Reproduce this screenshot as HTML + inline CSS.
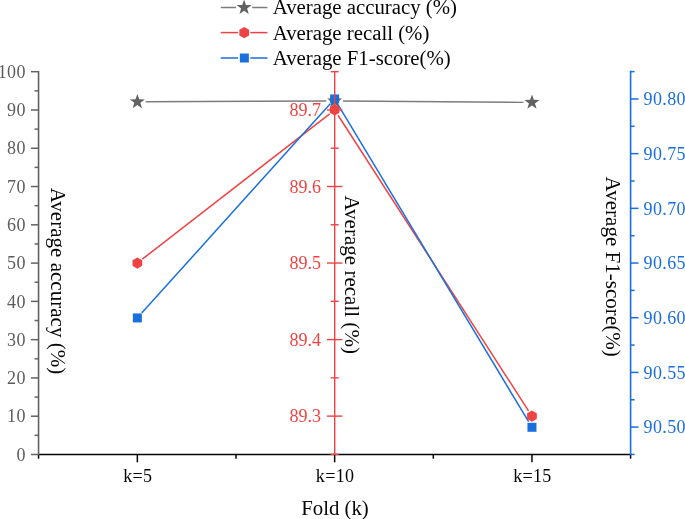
<!DOCTYPE html>
<html><head><meta charset="utf-8"><style>
html,body{margin:0;padding:0;background:#fff;width:685px;height:519px;overflow:hidden;position:relative}
.t{font-family:"Liberation Serif",serif;font-size:18px;letter-spacing:0.35px}
.T{font-family:"Liberation Serif",serif;font-size:20.8px}
.T2{font-family:"Liberation Serif",serif;font-size:21.05px}
</style></head><body>
<svg width="685" height="519" viewBox="0 0 685 519" style="position:absolute;left:0;top:0;will-change:transform">
<line x1="145.75" y1="101.81" x2="326.25" y2="100.99" stroke="#7c7c7c" stroke-width="1.4"/>
<line x1="343.05" y1="101.01" x2="523.55" y2="102.34" stroke="#7c7c7c" stroke-width="1.4"/>
<line x1="142.33" y1="259.18" x2="329.67" y2="113.82" stroke="#ef4343" stroke-width="1.5"/>
<line x1="338.06" y1="115.26" x2="528.54" y2="410.82" stroke="#ef4343" stroke-width="1.5"/>
<line x1="141.70" y1="313.09" x2="330.30" y2="103.79" stroke="#1a6fdf" stroke-width="1.5"/>
<line x1="338.00" y1="104.53" x2="528.60" y2="421.73" stroke="#1a6fdf" stroke-width="1.5"/>
<polygon points="137.35,93.95 139.21,99.29 144.86,99.41 140.36,102.83 141.99,108.24 137.35,105.01 132.71,108.24 134.34,102.83 129.84,99.41 135.49,99.29" fill="#626262"/>
<polygon points="334.65,93.05 336.51,98.39 342.16,98.51 337.66,101.93 339.29,107.34 334.65,104.11 330.01,107.34 331.64,101.93 327.14,98.51 332.79,98.39" fill="#626262"/>
<polygon points="531.95,94.50 533.81,99.84 539.46,99.96 534.96,103.38 536.59,108.79 531.95,105.56 527.31,108.79 528.94,103.38 524.44,99.96 530.09,99.84" fill="#626262"/>
<rect x="132.85" y="313.42" width="9.0" height="9.0" fill="#1a6fdf"/>
<rect x="330.15" y="94.46" width="9.0" height="9.0" fill="#1a6fdf"/>
<rect x="527.45" y="422.80" width="9.0" height="9.0" fill="#1a6fdf"/>
<polygon points="137.35,257.44 142.20,260.24 142.20,265.84 137.35,268.64 132.50,265.84 132.50,260.24" fill="#ef4343"/>
<polygon points="334.65,104.36 339.50,107.16 339.50,112.76 334.65,115.56 329.80,112.76 329.80,107.16" fill="#ef4343"/>
<polygon points="531.95,410.52 536.80,413.32 536.80,418.92 531.95,421.72 527.10,418.92 527.10,413.32" fill="#ef4343"/>
<line x1="37.75" y1="454.5" x2="631.4" y2="454.5" stroke="#050505" stroke-width="1.6"/>
<line x1="38.55" y1="454.5" x2="38.55" y2="458.7" stroke="#050505" stroke-width="1.5"/>
<line x1="236.0" y1="454.5" x2="236.0" y2="458.7" stroke="#050505" stroke-width="1.5"/>
<line x1="433.3" y1="454.5" x2="433.3" y2="458.7" stroke="#050505" stroke-width="1.5"/>
<line x1="630.6" y1="454.5" x2="630.6" y2="458.7" stroke="#050505" stroke-width="1.5"/>
<line x1="137.35" y1="454.5" x2="137.35" y2="462.3" stroke="#050505" stroke-width="1.5"/>
<text x="137.85" y="482.1" text-anchor="middle" class="t" fill="#050505">k=5</text>
<line x1="334.65" y1="454.5" x2="334.65" y2="462.3" stroke="#050505" stroke-width="1.5"/>
<text x="335.15" y="482.1" text-anchor="middle" class="t" fill="#050505">k=10</text>
<line x1="531.95" y1="454.5" x2="531.95" y2="462.3" stroke="#050505" stroke-width="1.5"/>
<text x="532.45" y="482.1" text-anchor="middle" class="t" fill="#050505">k=15</text>
<line x1="38.55" y1="70.95" x2="38.55" y2="455.3" stroke="#626262" stroke-width="1.6"/>
<line x1="30.95" y1="454.50" x2="38.55" y2="454.50" stroke="#626262" stroke-width="1.5"/>
<text x="25.8" y="460.70" text-anchor="end" class="t" fill="#5c5c5c">0</text>
<line x1="34.55" y1="435.36" x2="38.55" y2="435.36" stroke="#626262" stroke-width="1.5"/>
<line x1="30.95" y1="416.22" x2="38.55" y2="416.22" stroke="#626262" stroke-width="1.5"/>
<text x="25.8" y="422.42" text-anchor="end" class="t" fill="#5c5c5c">10</text>
<line x1="34.55" y1="397.08" x2="38.55" y2="397.08" stroke="#626262" stroke-width="1.5"/>
<line x1="30.95" y1="377.94" x2="38.55" y2="377.94" stroke="#626262" stroke-width="1.5"/>
<text x="25.8" y="384.14" text-anchor="end" class="t" fill="#5c5c5c">20</text>
<line x1="34.55" y1="358.80" x2="38.55" y2="358.80" stroke="#626262" stroke-width="1.5"/>
<line x1="30.95" y1="339.66" x2="38.55" y2="339.66" stroke="#626262" stroke-width="1.5"/>
<text x="25.8" y="345.86" text-anchor="end" class="t" fill="#5c5c5c">30</text>
<line x1="34.55" y1="320.52" x2="38.55" y2="320.52" stroke="#626262" stroke-width="1.5"/>
<line x1="30.95" y1="301.38" x2="38.55" y2="301.38" stroke="#626262" stroke-width="1.5"/>
<text x="25.8" y="307.58" text-anchor="end" class="t" fill="#5c5c5c">40</text>
<line x1="34.55" y1="282.24" x2="38.55" y2="282.24" stroke="#626262" stroke-width="1.5"/>
<line x1="30.95" y1="263.10" x2="38.55" y2="263.10" stroke="#626262" stroke-width="1.5"/>
<text x="25.8" y="269.30" text-anchor="end" class="t" fill="#5c5c5c">50</text>
<line x1="34.55" y1="243.96" x2="38.55" y2="243.96" stroke="#626262" stroke-width="1.5"/>
<line x1="30.95" y1="224.82" x2="38.55" y2="224.82" stroke="#626262" stroke-width="1.5"/>
<text x="25.8" y="231.02" text-anchor="end" class="t" fill="#5c5c5c">60</text>
<line x1="34.55" y1="205.68" x2="38.55" y2="205.68" stroke="#626262" stroke-width="1.5"/>
<line x1="30.95" y1="186.54" x2="38.55" y2="186.54" stroke="#626262" stroke-width="1.5"/>
<text x="25.8" y="192.74" text-anchor="end" class="t" fill="#5c5c5c">70</text>
<line x1="34.55" y1="167.40" x2="38.55" y2="167.40" stroke="#626262" stroke-width="1.5"/>
<line x1="30.95" y1="148.26" x2="38.55" y2="148.26" stroke="#626262" stroke-width="1.5"/>
<text x="25.8" y="154.46" text-anchor="end" class="t" fill="#5c5c5c">80</text>
<line x1="34.55" y1="129.12" x2="38.55" y2="129.12" stroke="#626262" stroke-width="1.5"/>
<line x1="30.95" y1="109.98" x2="38.55" y2="109.98" stroke="#626262" stroke-width="1.5"/>
<text x="25.8" y="116.18" text-anchor="end" class="t" fill="#5c5c5c">90</text>
<line x1="34.55" y1="90.84" x2="38.55" y2="90.84" stroke="#626262" stroke-width="1.5"/>
<line x1="30.95" y1="71.70" x2="38.55" y2="71.70" stroke="#626262" stroke-width="1.5"/>
<text x="25.8" y="77.90" text-anchor="end" class="t" fill="#5c5c5c">100</text>
<line x1="334.7" y1="70.99" x2="334.7" y2="455.09" stroke="#ef4343" stroke-width="1.4"/>
<line x1="330.70" y1="454.39" x2="338.70" y2="454.39" stroke="#ef4343" stroke-width="1.4"/>
<line x1="327.00" y1="416.12" x2="342.40" y2="416.12" stroke="#ef4343" stroke-width="1.4"/>
<text x="320.9" y="422.32" text-anchor="end" class="t" style="letter-spacing:0" fill="#ef4343">89.3</text>
<line x1="330.70" y1="377.85" x2="338.70" y2="377.85" stroke="#ef4343" stroke-width="1.4"/>
<line x1="327.00" y1="339.58" x2="342.40" y2="339.58" stroke="#ef4343" stroke-width="1.4"/>
<text x="320.9" y="345.78" text-anchor="end" class="t" style="letter-spacing:0" fill="#ef4343">89.4</text>
<line x1="330.70" y1="301.31" x2="338.70" y2="301.31" stroke="#ef4343" stroke-width="1.4"/>
<line x1="327.00" y1="263.04" x2="342.40" y2="263.04" stroke="#ef4343" stroke-width="1.4"/>
<text x="320.9" y="269.24" text-anchor="end" class="t" style="letter-spacing:0" fill="#ef4343">89.5</text>
<line x1="330.70" y1="224.77" x2="338.70" y2="224.77" stroke="#ef4343" stroke-width="1.4"/>
<line x1="327.00" y1="186.50" x2="342.40" y2="186.50" stroke="#ef4343" stroke-width="1.4"/>
<text x="320.9" y="192.70" text-anchor="end" class="t" style="letter-spacing:0" fill="#ef4343">89.6</text>
<line x1="330.70" y1="148.23" x2="338.70" y2="148.23" stroke="#ef4343" stroke-width="1.4"/>
<line x1="327.00" y1="109.96" x2="342.40" y2="109.96" stroke="#ef4343" stroke-width="1.4"/>
<text x="320.9" y="116.16" text-anchor="end" class="t" style="letter-spacing:0" fill="#ef4343">89.7</text>
<line x1="330.70" y1="71.69" x2="338.70" y2="71.69" stroke="#ef4343" stroke-width="1.4"/>
<line x1="630.6" y1="70.86" x2="630.6" y2="455.35" stroke="#1a6fdf" stroke-width="1.6"/>
<line x1="630.6" y1="454.45" x2="634.60" y2="454.45" stroke="#1a6fdf" stroke-width="1.5"/>
<line x1="630.6" y1="427.10" x2="638.50" y2="427.10" stroke="#1a6fdf" stroke-width="1.5"/>
<text x="643.6" y="433.30" class="t" fill="#1a6fdf">90.50</text>
<line x1="630.6" y1="399.76" x2="634.60" y2="399.76" stroke="#1a6fdf" stroke-width="1.5"/>
<line x1="630.6" y1="372.41" x2="638.50" y2="372.41" stroke="#1a6fdf" stroke-width="1.5"/>
<text x="643.6" y="378.61" class="t" fill="#1a6fdf">90.55</text>
<line x1="630.6" y1="345.07" x2="634.60" y2="345.07" stroke="#1a6fdf" stroke-width="1.5"/>
<line x1="630.6" y1="317.72" x2="638.50" y2="317.72" stroke="#1a6fdf" stroke-width="1.5"/>
<text x="643.6" y="323.92" class="t" fill="#1a6fdf">90.60</text>
<line x1="630.6" y1="290.38" x2="634.60" y2="290.38" stroke="#1a6fdf" stroke-width="1.5"/>
<line x1="630.6" y1="263.03" x2="638.50" y2="263.03" stroke="#1a6fdf" stroke-width="1.5"/>
<text x="643.6" y="269.23" class="t" fill="#1a6fdf">90.65</text>
<line x1="630.6" y1="235.69" x2="634.60" y2="235.69" stroke="#1a6fdf" stroke-width="1.5"/>
<line x1="630.6" y1="208.34" x2="638.50" y2="208.34" stroke="#1a6fdf" stroke-width="1.5"/>
<text x="643.6" y="214.54" class="t" fill="#1a6fdf">90.70</text>
<line x1="630.6" y1="181.00" x2="634.60" y2="181.00" stroke="#1a6fdf" stroke-width="1.5"/>
<line x1="630.6" y1="153.65" x2="638.50" y2="153.65" stroke="#1a6fdf" stroke-width="1.5"/>
<text x="643.6" y="159.85" class="t" fill="#1a6fdf">90.75</text>
<line x1="630.6" y1="126.31" x2="634.60" y2="126.31" stroke="#1a6fdf" stroke-width="1.5"/>
<line x1="630.6" y1="98.96" x2="638.50" y2="98.96" stroke="#1a6fdf" stroke-width="1.5"/>
<text x="643.6" y="105.16" class="t" fill="#1a6fdf">90.80</text>
<line x1="630.6" y1="71.62" x2="634.60" y2="71.62" stroke="#1a6fdf" stroke-width="1.5"/>
<text x="335" y="514.5" text-anchor="middle" class="T" fill="#050505">Fold (k)</text>
<text transform="translate(50.8,187.7) rotate(90)" class="T2" fill="#050505">Average accuracy (%)</text>
<text transform="translate(345.3,195.4) rotate(90)" class="T2" fill="#050505">Average recall (%)</text>
<text transform="translate(605.8,176.6) rotate(90)" class="T2" fill="#050505">Average F1-score(%)</text>
<line x1="220.8" y1="7.5" x2="236.0" y2="7.5" stroke="#7c7c7c" stroke-width="1.5"/>
<line x1="252.2" y1="7.5" x2="267.5" y2="7.5" stroke="#7c7c7c" stroke-width="1.5"/>
<polygon points="244.10,-0.40 245.96,4.94 251.61,5.06 247.11,8.48 248.74,13.89 244.10,10.66 239.46,13.89 241.09,8.48 236.59,5.06 242.24,4.94" fill="#626262"/>
<text x="272.7" y="14.40" class="T" fill="#050505">Average accuracy (%)</text>
<line x1="220.8" y1="32.6" x2="238.0" y2="32.6" stroke="#ef4343" stroke-width="1.5"/>
<line x1="250.3" y1="32.6" x2="267.5" y2="32.6" stroke="#ef4343" stroke-width="1.5"/>
<polygon points="244.20,27.00 249.05,29.80 249.05,35.40 244.20,38.20 239.35,35.40 239.35,29.80" fill="#ef4343"/>
<text x="272.7" y="39.50" class="T" fill="#050505">Average recall (%)</text>
<line x1="220.8" y1="58.0" x2="238.0" y2="58.0" stroke="#1a6fdf" stroke-width="1.5"/>
<line x1="250.3" y1="58.0" x2="267.5" y2="58.0" stroke="#1a6fdf" stroke-width="1.5"/>
<rect x="239.85" y="53.50" width="9.0" height="9.0" fill="#1a6fdf"/>
<text x="272.7" y="64.90" class="T" fill="#050505">Average F1-score(%)</text>
</svg>
</body></html>
